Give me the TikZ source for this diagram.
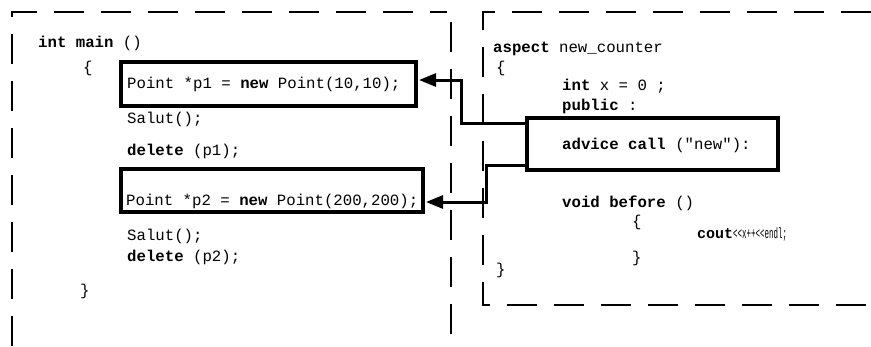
\documentclass[tikz,border=0pt]{standalone}
\usepackage{fontspec}
\usepackage{graphicx}
\usetikzlibrary{arrows.meta}
\newfontfamily\codefont{Liberation Mono}
\newcommand{\codesize}{\fontsize{15.7}{18}\selectfont}

\tikzset{
  frame/.style={line width=2.6pt, dash pattern=on 30pt off 17pt},
  codebox/.style={draw, line width=3.2pt, inner sep=0pt, fill=white},
  code/.style={font=\codefont\codesize, anchor=base west, inner sep=0pt},
  link/.style={line width=3pt, line join=miter,
    -{Triangle[length=17pt,width=13pt]}, shorten >=1.4pt},
}

\begin{document}
\begin{tikzpicture}[x=1pt,y=-1pt]
  \useasboundingbox (0,0) rectangle (871,346);

  % dashed frames of the two listings
  \draw[frame] (12,346) -- (12,12) -- (447,12);
  \draw[frame] (451,22) -- (451,346);
  \draw[frame] (871,12) -- (483,12) -- (483,305) -- (871,305);

  % highlighted statements
  \node[codebox, minimum width=295pt, minimum height=44pt] (b1) at (268.5,84) {};
  \node[codebox, minimum width=302pt, minimum height=43pt] (b2) at (272,190.5) {};
  \node[codebox, minimum width=251pt, minimum height=52pt] (b3) at (652.5,144) {};

  % main program
  \node[code] (m1) at (38,47)  {\textbf{int main} ()};
  \node[code] (m2) at (83,72)  {\{};
  \node[code] (m3) at (127,88) {Point *p1 = \textbf{new} Point(10,10);};
  \node[code] (m4) at (127,123) {Salut();};
  \node[code] (m5) at (127,155) {\textbf{delete} (p1);};
  \node[code] (m6) at (126,205) {Point *p2 = \textbf{new} Point(200,200);};
  \node[code] (m7) at (127,240) {Salut();};
  \node[code] (m8) at (127,261) {\textbf{delete} (p2);};
  \node[code] (m9) at (80,295) {\}};

  % aspect
  \node[code] (a1) at (493,52)  {\textbf{aspect} new\_counter};
  \node[code] (a2) at (496,72)  {\{};
  \node[code] (a3) at (562,90)  {\textbf{int} x = 0 ;};
  \node[code] (a4) at (562,110) {\textbf{public} :};
  \node[code] (a5) at (562,149) {\textbf{advice call} ("new"):};
  \node[code] (a6) at (562,207) {\textbf{void before} ()};
  \node[code] (a7) at (632,226) {\{};
  \node[code, font=\codefont\fontsize{15}{18}\selectfont] (a8) at (697,238)
    {\textbf{cout}\scalebox{0.5}[1]{<{}<x++<{}<endl;}};
  \node[code] (a9) at (632,262) {\}};
  \node[code] (a10) at (496,274) {\}};

  % advice applied to both constructor calls
  \draw[link] ([yshift=21pt]b3.west) -| ([xshift=44pt,yshift=4pt]b1.east)
    -- ([yshift=4pt]b1.east);
  \draw[link] ([yshift=-21pt]b3.west) -| ([xshift=62pt,yshift=-11.5pt]b2.east)
    -- ([yshift=-11.5pt]b2.east);
\end{tikzpicture}
\end{document}
